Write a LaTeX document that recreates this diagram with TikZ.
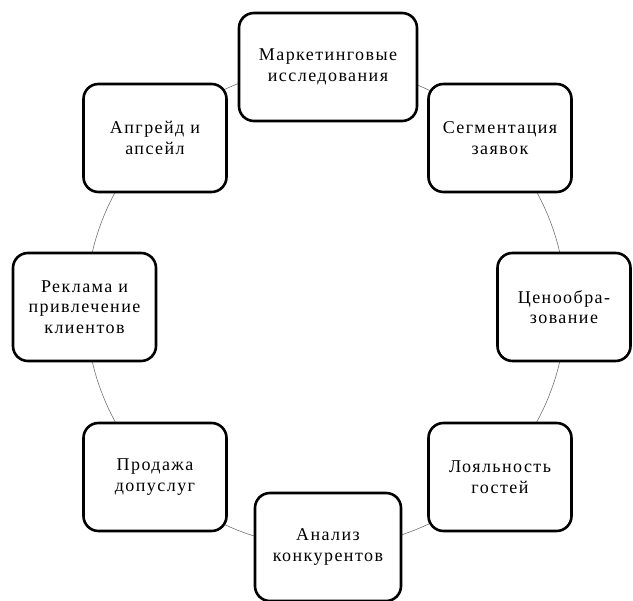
\documentclass[tikz,border=0pt]{standalone}
\usepackage{fontspec}
\setmainfont{Liberation Serif}[LetterSpace=8]
\begin{document}
\begin{tikzpicture}[x = 1pt, y = -1pt,
    stage/.style = {draw = black, line width = 2.6pt, fill = white,
      rounded corners = 15pt, minimum width = 143pt, minimum height = 108pt,
      align = center, inner sep = 2pt, font = \fontsize{18}{20.5}\selectfont},
    ring/.style = {draw = black!55, line width = .6pt}]
  \useasboundingbox (0, 0) rectangle (633, 601);
  \coordinate (c) at (326, 307);
  % the ring behind the boxes
  \draw[ring] (c) circle [radius = 240];
  \node[stage, minimum width = 178pt] (market) at (328, 67)
    {Маркетинговые\\исследования};
  \node[stage] (segment) at (500, 138) {Сегментация\\заявок};
  \node[stage, minimum width = 133pt] (price) at (564, 307)
    {Ценообра-\\зование};
  \node[stage] (loyal) at (500, 477) {Лояльность\\гостей};
  \node[stage, minimum width = 146pt] (rivals) at (328, 547)
    {Анализ\\конкурентов};
  \node[stage] (extra) at (155, 477) {Продажа\\допуслуг};
  \node[stage] (advert) at (84.5, 307) {Реклама и\\привлечение\\клиентов};
  \node[stage] (upsell) at (155, 138) {Апгрейд и\\апсейл};
\end{tikzpicture}
\end{document}
